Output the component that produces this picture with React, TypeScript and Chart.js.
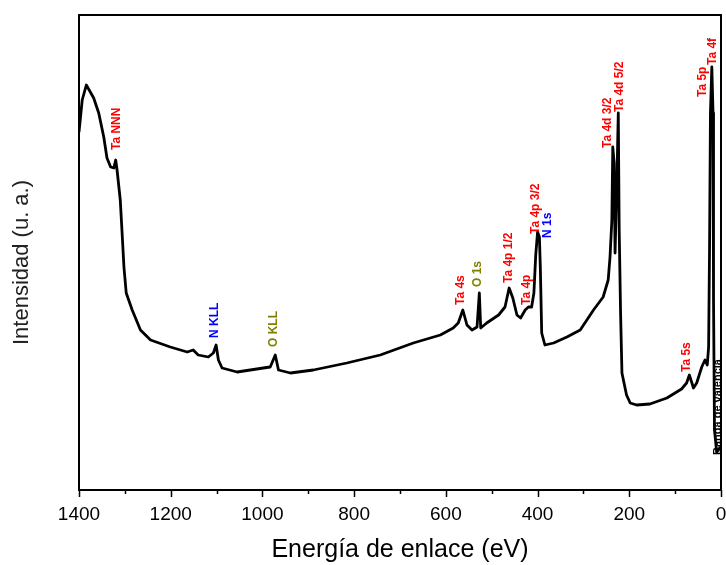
import React, { useEffect, useRef } from "react";
import { Chart, registerables } from "chart.js";

Chart.register(...registerables);

// Binding energy (eV) and intensity (a.u.)
const energies = [
  1400, 1393, 1384, 1368, 1357, 1346, 1339, 1331, 1324, 1320, 1317, 1310, 1306, 1302, 1297, 1284,
  1266, 1244, 1201, 1164, 1151, 1140, 1118, 1107, 1101, 1096, 1088, 1055, 998, 983, 972, 965,
  939, 889, 816, 743, 671, 612, 584, 573, 563, 554, 543, 532, 527, 524, 511, 485, 471, 462,
  454, 445, 437, 427, 420, 413, 408, 404, 400, 396, 394, 391, 384, 365, 336, 307, 278, 257,
  246, 242, 238, 236, 233, 231, 227, 224, 222, 219, 216, 206, 198, 184, 155, 118, 86, 75,
  69, 60, 53, 42, 35, 30, 27, 25, 23, 20, 17.4, 16.3, 14.2, 9.4, 5.9, 0.7,
];
const intensities = [
  358, 390, 405, 392, 377, 353, 332, 323, 322, 330, 320, 290, 257, 223, 197, 180,
  160, 150, 143, 138, 140, 135, 133, 137, 145, 130, 122, 118, 122, 123, 135, 120,
  117, 120, 127, 135, 147, 155, 162, 167, 180, 165, 160, 163, 197, 162, 167, 175, 183, 202,
  192, 175, 172, 180, 183, 183, 197, 235, 258, 253, 223, 157, 145, 147, 153, 160, 180, 193,
  210, 233, 270, 343, 327, 237, 310, 377, 260, 177, 117, 95, 87, 85, 86, 92, 101, 107,
  115, 102, 107, 123, 130, 125, 143, 240, 377, 423, 377, 190, 60, 38, 40, 43,
];

// Peak annotations
const peakLabels = [
  "Ta NNN", "N KLL", "O KLL", "Ta 4s", "O 1s", "Ta 4p 1/2", "Ta 4p", "Ta 4p 3/2", "N 1s",
  "Ta 4d 3/2", "Ta 4d 5/2", "Ta 5s", "Ta 5p", "Ta 4f", "Banda de valencia",
];
const peakLabelEnergies = [1318, 1105, 976, 567, 530, 462, 423, 405, 379, 248, 222, 74, 39, 17.4, 6.5];
const peakLabelHeights = [340, 152, 143, 185, 203, 207, 185, 256, 252, 342, 378, 118, 393, 425, 35];
const peakLabelColors = [
  "#ff0000", "#0000ff", "#808000", "#ff0000", "#808000", "#ff0000", "#ff0000", "#ff0000", "#0000ff",
  "#ff0000", "#ff0000", "#ff0000", "#ff0000", "#ff0000", "#000000",
];

const xTickValues = [0, 100, 200, 300, 400, 500, 600, 700, 800, 900, 1000, 1100, 1200, 1300, 1400];
const yAxisTitle = "Intensidad (u. a.)";

const FONT = "'Liberation Sans', Arial, sans-serif";

const decorPlugin = {
  id: "decor",
  afterDatasetsDraw(chart: any) {
    const { ctx, chartArea, scales } = chart;
    const xs = scales.x;
    const ys = scales.y;
    ctx.save();
    // frame
    ctx.strokeStyle = "#000";
    ctx.lineWidth = 2;
    ctx.strokeRect(chartArea.left, chartArea.top, chartArea.right - chartArea.left, chartArea.bottom - chartArea.top);
    // tick marks
    ctx.lineWidth = 1.5;
    ctx.beginPath();
    xTickValues.forEach((v) => {
      const px = Math.round(xs.getPixelForValue(v)) + 0.5;
      const len = v % 200 === 0 ? 7 : 4;
      ctx.moveTo(px, chartArea.bottom);
      ctx.lineTo(px, chartArea.bottom + len);
    });
    ctx.stroke();
    // y-axis title
    ctx.save();
    ctx.translate(22, (chartArea.top + chartArea.bottom) / 2 + 10);
    ctx.rotate(-Math.PI / 2);
    ctx.fillStyle = "#222";
    ctx.font = "22px " + FONT;
    ctx.textAlign = "center";
    ctx.textBaseline = "middle";
    ctx.fillText(yAxisTitle, 0, 0);
    ctx.restore();
    // peak labels
    peakLabels.forEach((t, i) => {
      const px = xs.getPixelForValue(peakLabelEnergies[i]);
      const py = ys.getPixelForValue(peakLabelHeights[i]);
      ctx.save();
      ctx.translate(px, py);
      ctx.rotate(-Math.PI / 2);
      ctx.fillStyle = peakLabelColors[i];
      ctx.font = (i === peakLabels.length - 1 ? "bold 11px " : "bold 12px ") + FONT;
      ctx.textAlign = "left";
      ctx.textBaseline = "middle";
      ctx.fillText(t, 0, 0);
      ctx.restore();
    });
    ctx.restore();
  },
};

export default function App() {
  const ref = useRef<HTMLCanvasElement>(null);
  useEffect(() => {
    const points = energies.map((e, i) => ({ x: e, y: intensities[i] }));
    const chart = new Chart(ref.current as HTMLCanvasElement, {
      type: "line",
      data: {
        datasets: [
          {
            data: points,
            borderColor: "#000",
            borderWidth: 2.8,
            pointRadius: 0,
            tension: 0,
            borderJoinStyle: "round",
          },
        ],
      },
      options: {
        animation: false,
        responsive: false,
        devicePixelRatio: 1,
        parsing: false,
        layout: { padding: { top: 15, right: 5, left: 0, bottom: 0 } },
        plugins: { legend: { display: false }, tooltip: { enabled: false } },
        scales: {
          x: {
            type: "linear",
            reverse: true,
            min: 0,
            max: 1400,
            afterFit: (s: any) => {
              s.height = 75;
            },
            afterBuildTicks: (s: any) => {
              s.ticks = xTickValues.map((v) => ({ value: v }));
            },
            grid: { display: false, drawTicks: true, tickLength: 8 },
            border: { display: false },
            ticks: {
              autoSkip: false,
              maxRotation: 0,
              padding: 5,
              color: "#000",
              font: { family: FONT, size: 19 },
              callback: (v: any) => (Number(v) % 200 === 0 ? String(v) : ""),
            },
            title: {
              display: true,
              text: "Energía de enlace (eV)",
              color: "#000",
              font: { family: FONT, size: 25 },
              padding: { top: 0, bottom: 0 },
            },
          },
          y: {
            type: "linear",
            min: 0,
            max: 475,
            afterFit: (s: any) => {
              s.width = 79;
            },
            grid: { display: false },
            border: { display: false },
            ticks: { display: false },
            title: { display: false },
          },
        },
      },
      plugins: [decorPlugin],
    } as any);
    return () => chart.destroy();
  }, []);
  return (
    <div style={{ position: "fixed", left: 0, top: 0, width: 726, height: 565, background: "#fff" }}>
      <canvas ref={ref} width={726} height={565} style={{ width: 726, height: 565, display: "block" }} />
    </div>
  );
}
